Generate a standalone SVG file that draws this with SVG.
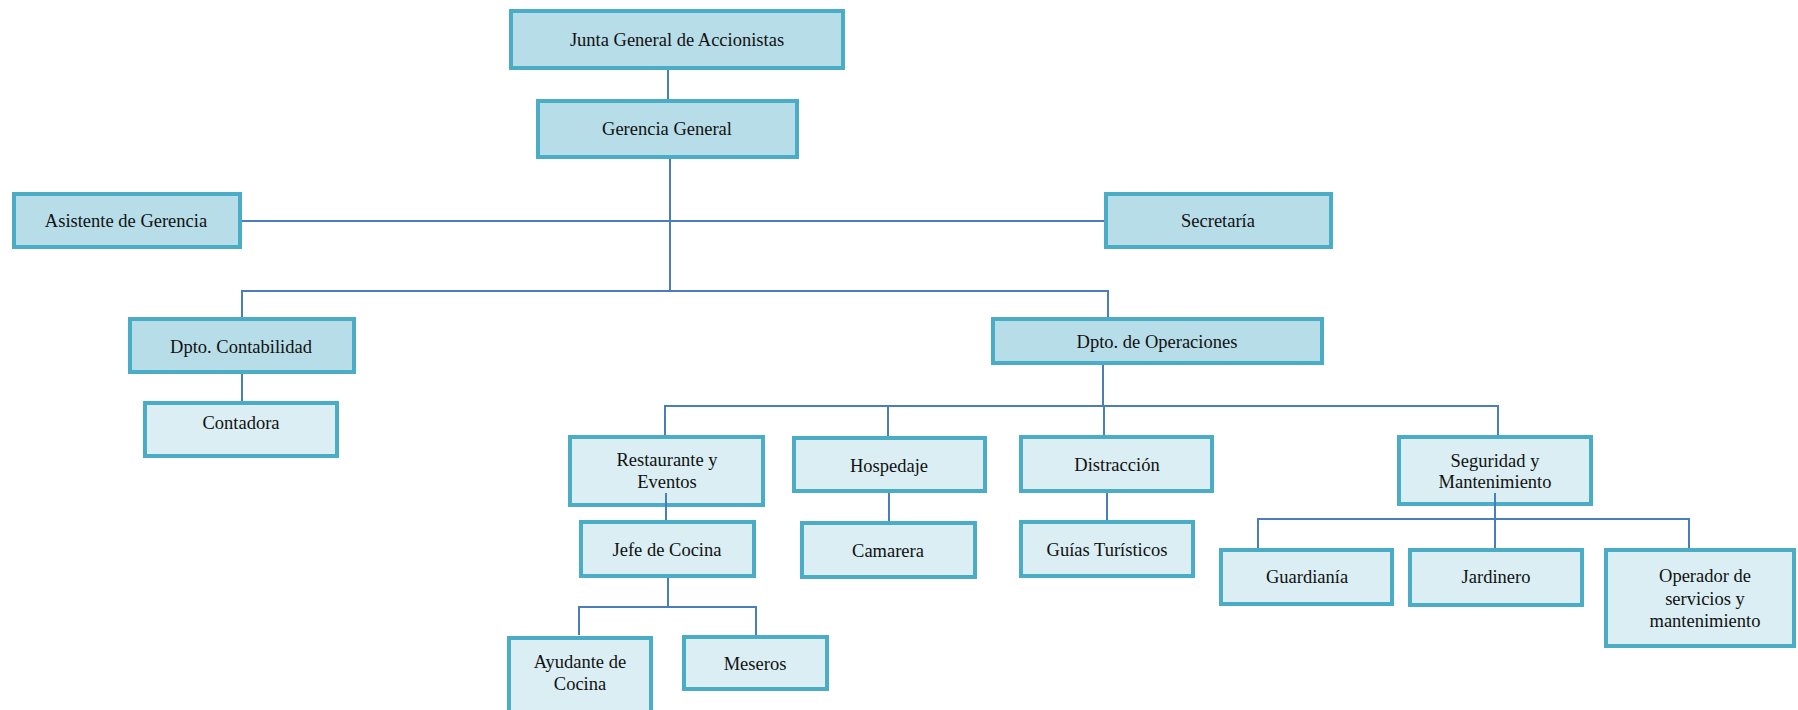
<svg xmlns="http://www.w3.org/2000/svg" width="1798" height="710" viewBox="0 0 1798 710">
<style>
.b{stroke:#4bacc6;stroke-width:4;}
.d{fill:#b7dde8;}
.l{fill:#daeef3;}
text{font-family:"Liberation Serif","Times New Roman",serif;font-size:18.5px;fill:#111;text-anchor:middle;}
.c{stroke:#4a7ebb;stroke-width:2;fill:none;}
</style>
<rect width="1798" height="710" fill="#fff"/>
<g id="n-junta"><rect class="b d" x="511" y="11" width="332" height="57"/><text x="677" y="46">Junta General de Accionistas</text></g>
<g id="n-gerencia"><rect class="b d" x="538" y="101" width="259" height="56"/><text x="667" y="135">Gerencia General</text></g>
<g id="n-asistente"><rect class="b d" x="14" y="194" width="226" height="53"/><text x="126" y="227">Asistente de Gerencia</text></g>
<g id="n-secretaria"><rect class="b d" x="1106" y="194" width="225" height="53"/><text x="1218" y="227">Secretaría</text></g>
<g id="n-contabilidad"><rect class="b d" x="130" y="319" width="224" height="53"/><text x="241" y="353">Dpto. Contabilidad</text></g>
<g id="n-operaciones"><rect class="b d" x="993" y="319" width="329" height="44"/><text x="1157" y="348">Dpto. de Operaciones</text></g>
<g id="n-contadora"><rect class="b l" x="145" y="403" width="192" height="53"/><text x="241" y="429">Contadora</text></g>
<g id="n-restaurante"><rect class="b l" x="570" y="437" width="193" height="68"/><text x="667" y="466">Restaurante y</text><text x="667" y="488">Eventos</text></g>
<g id="n-hospedaje"><rect class="b l" x="794" y="438" width="191" height="53"/><text x="889" y="472">Hospedaje</text></g>
<g id="n-distraccion"><rect class="b l" x="1021" y="437" width="191" height="54"/><text x="1117" y="471">Distracción</text></g>
<g id="n-seguridad"><rect class="b l" x="1399" y="437" width="192" height="67"/><text x="1495" y="467">Seguridad y</text><text x="1495" y="488">Mantenimiento</text></g>
<g id="n-jefe"><rect class="b l" x="581" y="522" width="173" height="54"/><text x="667" y="556">Jefe de Cocina</text></g>
<g id="n-camarera"><rect class="b l" x="802" y="523" width="173" height="54"/><text x="888" y="557">Camarera</text></g>
<g id="n-guias"><rect class="b l" x="1021" y="522" width="172" height="54"/><text x="1107" y="556">Guías Turísticos</text></g>
<g id="n-guardiania"><rect class="b l" x="1221" y="550" width="171" height="54"/><text x="1307" y="583">Guardianía</text></g>
<g id="n-jardinero"><rect class="b l" x="1410" y="550" width="172" height="55"/><text x="1496" y="583">Jardinero</text></g>
<g id="n-operador"><rect class="b l" x="1606" y="550" width="188" height="96"/><text x="1705" y="582">Operador de</text><text x="1705" y="605">servicios y</text><text x="1705" y="627">mantenimiento</text></g>
<g id="n-ayudante"><rect class="b l" x="509" y="638" width="142" height="80"/><text x="580" y="668">Ayudante de</text><text x="580" y="690">Cocina</text></g>
<g id="n-meseros"><rect class="b l" x="684" y="637" width="143" height="52"/><text x="755" y="670">Meseros</text></g>
<g id="connectors" class="c">
<path d="M668 70V99"/>
<path d="M670 159V291"/>
<path d="M242 221H1104"/>
<path d="M242 317V291H1108V317"/>
<path d="M242 374V401"/>
<path d="M1103 365V406"/>
<path d="M665 435V406H1498V435"/>
<path d="M888 406V436"/>
<path d="M1104 406V435"/>
<path d="M666 493V520"/>
<path d="M889 493V521"/>
<path d="M1107 493V520"/>
<path d="M668 578V607"/>
<path d="M579 635V607H756V635"/>
<path d="M1495 493V548"/>
<path d="M1258 548V519H1689V548"/>
</g>
</svg>
